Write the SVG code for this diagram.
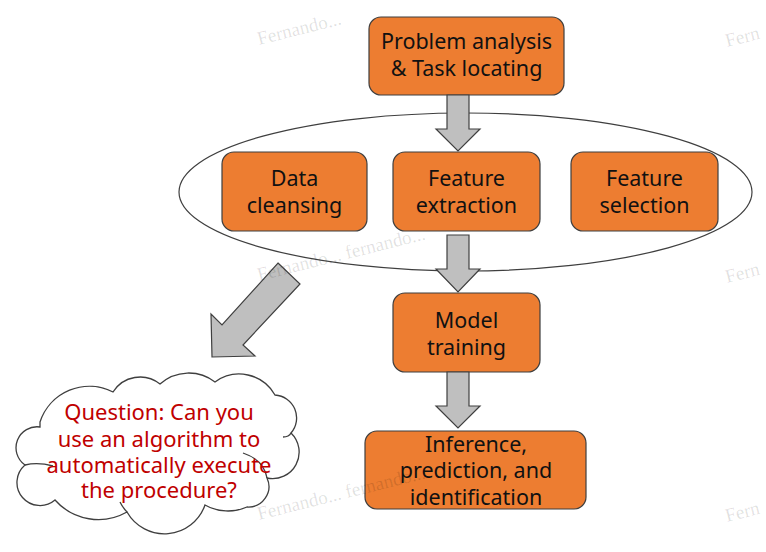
<svg xmlns="http://www.w3.org/2000/svg" width="766" height="552" viewBox="0 0 766 552">
<style>
.box{fill:#ED7D31;stroke:#3F3F3F;stroke-width:1.2}
.lbl{font-family:"Noto Sans","Open Sans",sans-serif;font-size:21.5px;fill:#111;text-anchor:middle}
.q{font-family:"Noto Sans","Open Sans",sans-serif;font-size:22px;fill:#C00000;text-anchor:middle}
.arr{fill:#BFBFBF;stroke:#3F3F3F;stroke-width:1.2;stroke-linejoin:miter}
.cloud{fill:#FFFFFF;stroke:#3F3F3F;stroke-width:1.3}
.hook{fill:none;stroke:#3F3F3F;stroke-width:1.3}
.wm{font-family:"Liberation Serif","DejaVu Serif",serif;font-size:19px;fill:#000;fill-opacity:0.12}
</style>
<rect width="766" height="552" fill="#FFFFFF"/>

<g id="node-problem">
<rect class="box" x="369" y="17" width="195" height="78" rx="12"/>
<text class="lbl" x="466.5" y="49">Problem analysis</text>
<text class="lbl" x="466.5" y="76">&amp; Task locating</text>
</g>

<g id="node-data-cleansing">
<rect class="box" x="222" y="152" width="145" height="79" rx="12"/>
<text class="lbl" x="294.5" y="186">Data</text>
<text class="lbl" x="294.5" y="213">cleansing</text>
</g>

<g id="node-feature-extraction">
<rect class="box" x="393" y="152" width="147" height="79" rx="12"/>
<text class="lbl" x="466.5" y="186">Feature</text>
<text class="lbl" x="466.5" y="213">extraction</text>
</g>

<g id="node-feature-selection">
<rect class="box" x="571" y="152" width="147" height="79" rx="12"/>
<text class="lbl" x="644.5" y="186">Feature</text>
<text class="lbl" x="644.5" y="213">selection</text>
</g>

<g id="group-ellipse">
<ellipse cx="465.5" cy="192" rx="286.5" ry="79" fill="none" stroke="#3F3F3F" stroke-width="1.2"/>
</g>

<g id="node-model-training">
<rect class="box" x="393" y="293" width="147" height="79" rx="12"/>
<text class="lbl" x="466.5" y="328">Model</text>
<text class="lbl" x="466.5" y="355">training</text>
</g>

<g id="node-inference">
<rect class="box" x="365" y="431" width="221" height="78" rx="12"/>
<text class="lbl" x="476" y="452">Inference,</text>
<text class="lbl" x="476" y="478">prediction, and</text>
<text class="lbl" x="476" y="505">identification</text>
</g>

<g id="node-question">
<path class="cloud" d="M40,422 A52,52 0 0,1 113,392 A32,32 0 0,1 160,384 A43,43 0 0,1 215,382 A41,41 0 0,1 275,395 A23,23 0 0,1 291,433 A26.5,26.5 0 0,1 267,478 A20.5,20.5 0 0,1 247,507 A47,47 0 0,1 205,505 A43,43 0 0,1 127,512 A58,58 0 0,1 55,500 A23,23 0 0,1 25,465 A21,21 0 0,1 40,427 Z"/>
<path class="hook" d="M25,465 Q38,462 53,466"/>
<path class="hook" d="M291,433 Q289,437 283,437"/>
<path class="hook" d="M243,453 Q264,460 267,478"/>
<path class="hook" d="M120,502 Q123,508 127,512"/>
<text class="q" x="159" y="420">Question: Can you</text>
<text class="q" x="159" y="447">use an algorithm to</text>
<text class="q" x="159" y="473">automatically execute</text>
<text class="q" x="159" y="498">the procedure?</text>
</g>

<g id="connectors">
<path class="arr" d="M447,95 H469 V129 H480 L458,151 L436,129 H447 Z"/>
<path class="arr" d="M447,235 H469 V269 H480 L458,292 L436,269 H447 Z"/>
<path class="arr" d="M447,372 H469 V406 H480 L458,428 L436,406 H447 Z"/>
<path class="arr" d="M278,263 L300,284 L243,345 L255,356 L212,357 L211,314 L222,325 Z"/>
</g>

<g id="watermark">
<text class="wm" transform="translate(259,45) rotate(-14)">Fernando...</text>
<text class="wm" transform="translate(259,281) rotate(-14)">Fernando... fernando...</text>
<text class="wm" transform="translate(259,520) rotate(-14)">Fernando... fernando...</text>
<text class="wm" transform="translate(727,47) rotate(-14)">Fern</text>
<text class="wm" transform="translate(727,283) rotate(-14)">Fern</text>
<text class="wm" transform="translate(727,522) rotate(-14)">Fern</text>
</g>
</svg>
